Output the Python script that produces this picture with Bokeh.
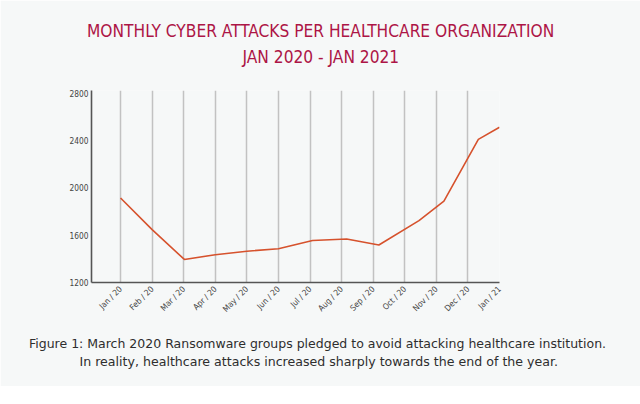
import math
from bokeh.plotting import figure
from bokeh.models import FixedTicker, Range1d, Title
from bokeh.embed import file_html
from bokeh.resources import INLINE

# ---- data ----
month_labels = ["Jan / 20", "Feb / 20", "Mar / 20", "Apr / 20", "May / 20", "Jun / 20",
                "Jul / 20", "Aug / 20", "Sep / 20", "Oct / 20", "Nov / 20", "Dec / 20", "Jan / 21"]
# position of each reading along the month axis (0 = Jan 20)
attack_pos = [0, 1, 2.02, 3, 4, 5, 6.08, 7.16, 8.18, 9.45, 10.24, 11.33, 12]
attacks = [1915, 1648, 1395, 1435, 1465, 1485, 1555, 1568, 1517, 1724, 1888, 2411, 2514]
y_ticks = [1200, 1600, 2000, 2400, 2800]

title_1 = "MONTHLY CYBER ATTACKS PER HEALTHCARE ORGANIZATION"
title_2 = "JAN 2020 - JAN 2021"
caption_1 = "Figure 1: March 2020 Ransomware groups pledged to avoid attacking healthcare institution."
caption_2 = "In reality, healthcare attacks increased sharply towards the end of the year."

BG = "#f6f8f8"
FONT = "DejaVu Sans Condensed"
CAP_FONT = "DejaVu Sans"
TITLE_COLOR = "#ad1546"
CAP_COLOR = "#2e2e2e"

W, H = 640, 386
LEFT, RIGHT, TOP, BOTTOM = 91, 141, 90, 104
X0, X1 = -0.92, 12
Y0, Y1 = 1200, 2825

p = figure(width=W, height=H, output_backend="svg", toolbar_location=None,
           x_range=Range1d(X0, X1), y_range=Range1d(Y0, Y1),
           min_border_left=LEFT, min_border_right=RIGHT,
           min_border_top=TOP, min_border_bottom=BOTTOM,
           background_fill_color=BG, border_fill_color=BG, outline_line_color=None)

p.line(attack_pos, attacks, line_color="#d6522d", line_width=1.6)

# axes
p.xaxis.ticker = FixedTicker(ticks=list(range(len(month_labels))))
p.xaxis.major_label_overrides = {i: s for i, s in enumerate(month_labels)}
p.xaxis.major_label_orientation = math.pi / 4
p.yaxis.ticker = FixedTicker(ticks=y_ticks)
for ax in (p.xaxis[0], p.yaxis[0]):
    ax.axis_line_color = "#555555"
    ax.axis_line_width = 1.6
    ax.major_tick_line_color = None
    ax.minor_tick_line_color = None
    ax.major_tick_out = 0
    ax.major_tick_in = 0
    ax.major_label_text_font = FONT
    ax.major_label_text_font_size = "8.3px"
    ax.major_label_text_color = "#444444"
p.xaxis.major_label_standoff = 5
p.yaxis.major_label_standoff = 3

p.xgrid.grid_line_color = "#c2c2c2"
p.xgrid.grid_line_width = 1.5
p.ygrid.grid_line_color = None

# titles (offset measured from the frame's left edge)
p.title.text = title_1
p.title.align = "left"
p.title.offset = -4.5
p.title.text_font = FONT
p.title.text_font_size = "17.2px"
p.title.text_font_style = "normal"
p.title.text_color = TITLE_COLOR
p.title.standoff = -39

p.add_layout(Title(text=title_2, align="left", offset=151, text_font=FONT,
                   text_font_size="17.2px", text_font_style="normal",
                   text_color=TITLE_COLOR, standoff=47), "above")

p.add_layout(Title(text=caption_1, align="left", offset=-62.5, text_font=CAP_FONT,
                   text_font_size="12.5px", text_font_style="normal",
                   vertical_align="top", text_color=CAP_COLOR, standoff=31), "below")
p.add_layout(Title(text=caption_2, align="left", offset=-12, text_font=CAP_FONT,
                   text_font_size="12.6px", text_font_style="normal",
                   vertical_align="top", text_color=CAP_COLOR, standoff=-30), "below")

open("out.html", "w").write(file_html(p, INLINE))
